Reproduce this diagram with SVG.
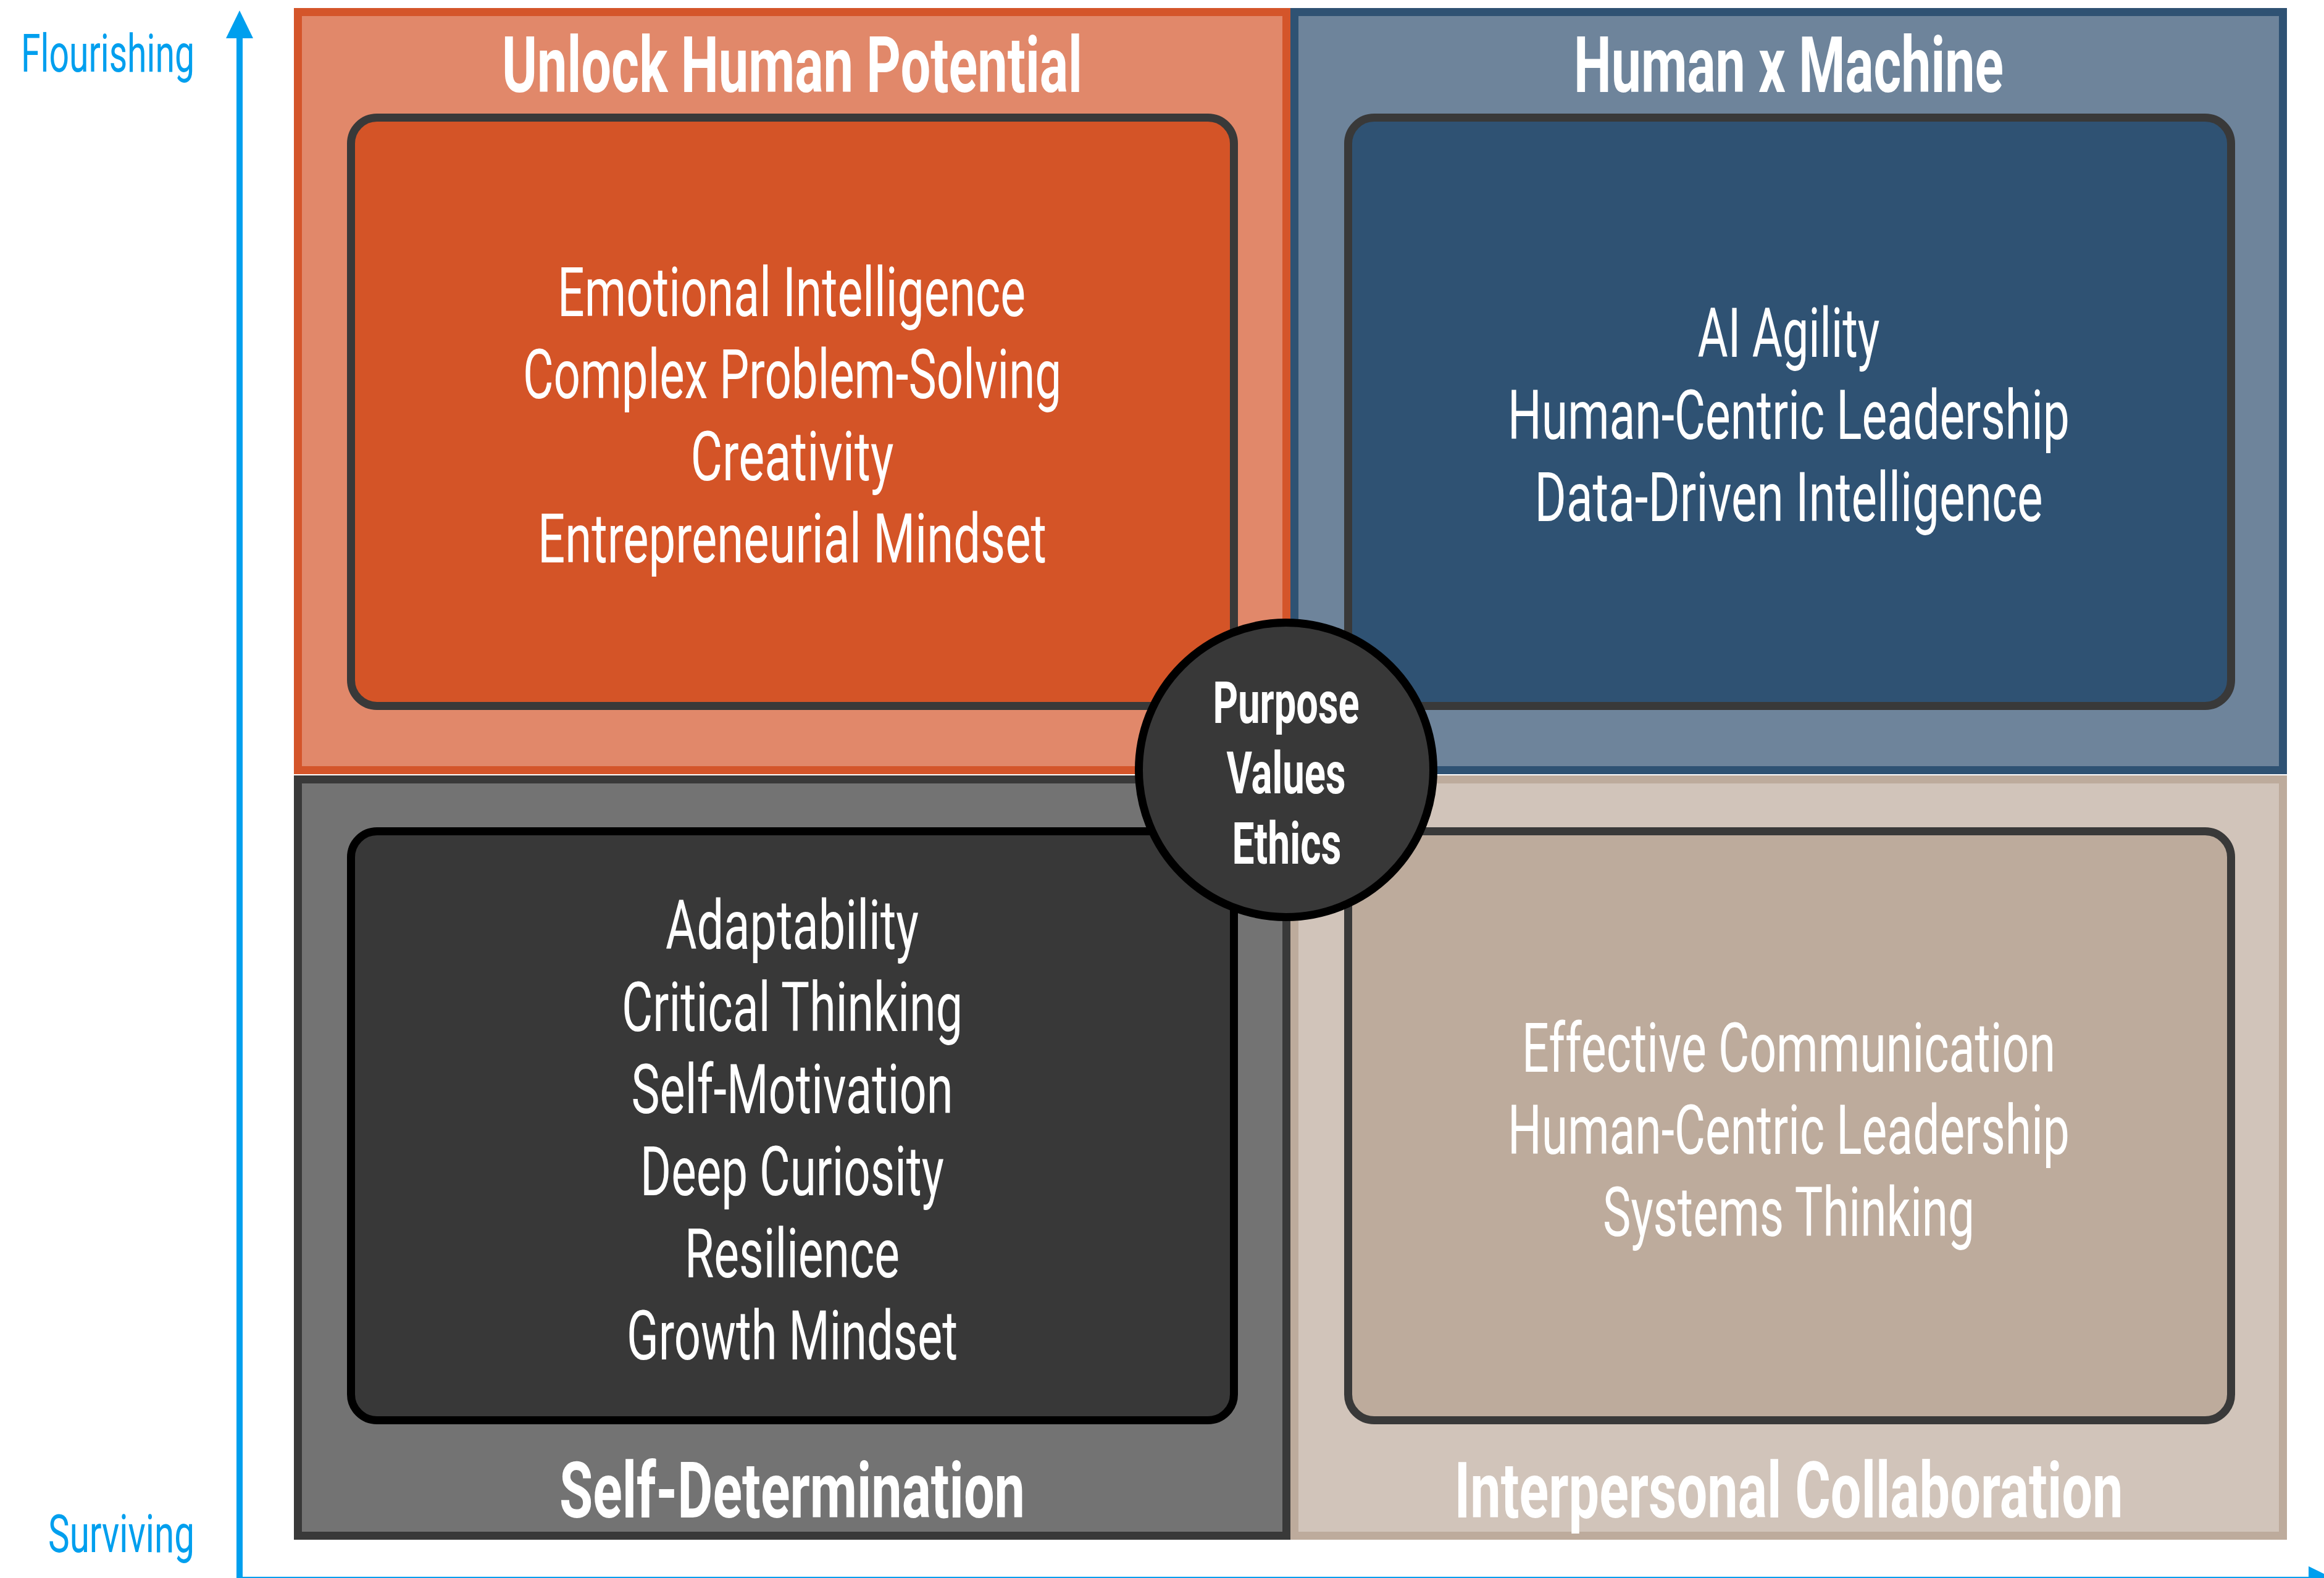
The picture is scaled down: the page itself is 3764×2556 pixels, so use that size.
<svg xmlns="http://www.w3.org/2000/svg" width="3764" height="2556" viewBox="0 0 3764 2556">
<style>
.q{stroke-width:13}
.box{stroke-width:13}
.t{font-family:Roboto,"Liberation Sans",sans-serif;fill:#fff;text-anchor:middle}
.title{font-size:126px;font-weight:700}
.item{font-size:112px;font-weight:400}
.core{font-size:95px;font-weight:700}
.axl{font-family:Roboto,"Liberation Sans",sans-serif;fill:#009FEE;font-size:86px;text-anchor:end}
</style>
<defs>
<marker id="arr" markerUnits="userSpaceOnUse" markerWidth="45" markerHeight="44" refX="0" refY="22" orient="auto" viewBox="0 0 45 44">
<path d="M0,0 L45,22 L0,44 z" fill="#009FEE"/>
</marker>
</defs>
<rect width="3764" height="2556" fill="#fff"/>

<g id="axes">
<line x1="388" y1="2559" x2="388" y2="62" stroke="#009FEE" stroke-width="10" marker-end="url(#arr)"/>
<line x1="383" y1="2559" x2="3739" y2="2559" stroke="#009FEE" stroke-width="10" marker-end="url(#arr)"/>
<text class="axl" x="315" y="116" textLength="281" lengthAdjust="spacingAndGlyphs">Flourishing</text>
<text class="axl" x="315" y="2514" textLength="237" lengthAdjust="spacingAndGlyphs">Surviving</text>
</g>

<g id="q-unlock">
<rect class="q" x="482.5" y="19.5" width="1601" height="1228" fill="#E1886A" stroke="#D4552A"/>
<rect class="box" x="568.5" y="190.5" width="1430" height="953" rx="42" fill="#D45427" stroke="#393939"/>
<text class="t title" x="1283" y="149" textLength="940" lengthAdjust="spacingAndGlyphs">Unlock Human Potential</text>
<text class="t item" x="1282" y="512" textLength="758" lengthAdjust="spacingAndGlyphs">Emotional Intelligence</text>
<text class="t item" x="1283" y="645" textLength="872" lengthAdjust="spacingAndGlyphs">Complex Problem-Solving</text>
<text class="t item" x="1283" y="778" textLength="329" lengthAdjust="spacingAndGlyphs">Creativity</text>
<text class="t item" x="1283" y="911" textLength="824" lengthAdjust="spacingAndGlyphs">Entrepreneurial Mindset</text>
</g>

<g id="q-human-machine">
<rect class="q" x="2096.5" y="19.5" width="1601" height="1228" fill="#6E849B" stroke="#2F5273"/>
<rect class="box" x="2183.5" y="190.5" width="1430" height="953" rx="42" fill="#2F5273" stroke="#393939"/>
<text class="t title" x="2897" y="149" textLength="696" lengthAdjust="spacingAndGlyphs">Human x Machine</text>
<text class="t item" x="2897" y="578" textLength="295" lengthAdjust="spacingAndGlyphs">AI Agility</text>
<text class="t item" x="2897" y="711" textLength="910" lengthAdjust="spacingAndGlyphs">Human-Centric Leadership</text>
<text class="t item" x="2897" y="844" textLength="823" lengthAdjust="spacingAndGlyphs">Data-Driven Intelligence</text>
</g>

<g id="q-self-determination">
<rect class="q" x="482.5" y="1262.5" width="1601" height="1225" fill="#737373" stroke="#393939"/>
<rect class="box" x="568.5" y="1346.5" width="1430" height="954" rx="42" fill="#383838" stroke="#000"/>
<text class="t title" x="1283" y="2458" textLength="754" lengthAdjust="spacingAndGlyphs">Self-Determination</text>
<text class="t item" x="1283" y="1537" textLength="410" lengthAdjust="spacingAndGlyphs">Adaptability</text>
<text class="t item" x="1283" y="1670" textLength="552" lengthAdjust="spacingAndGlyphs">Critical Thinking</text>
<text class="t item" x="1283" y="1803" textLength="521" lengthAdjust="spacingAndGlyphs">Self-Motivation</text>
<text class="t item" x="1283" y="1936" textLength="492" lengthAdjust="spacingAndGlyphs">Deep Curiosity</text>
<text class="t item" x="1283" y="2069" textLength="348" lengthAdjust="spacingAndGlyphs">Resilience</text>
<text class="t item" x="1283" y="2202" textLength="536" lengthAdjust="spacingAndGlyphs">Growth Mindset</text>
</g>

<g id="q-interpersonal">
<rect class="q" x="2096.5" y="1262.5" width="1601" height="1225" fill="#D1C4BA" stroke="#BDAB9C"/>
<rect class="box" x="2183.5" y="1346.5" width="1430" height="954" rx="42" fill="#BDAB9C" stroke="#393939"/>
<text class="t title" x="2897" y="2458" textLength="1083" lengthAdjust="spacingAndGlyphs">Interpersonal Collaboration</text>
<text class="t item" x="2897" y="1736" textLength="864" lengthAdjust="spacingAndGlyphs">Effective Communication</text>
<text class="t item" x="2897" y="1869" textLength="910" lengthAdjust="spacingAndGlyphs">Human-Centric Leadership</text>
<text class="t item" x="2897" y="2002" textLength="602" lengthAdjust="spacingAndGlyphs">Systems Thinking</text>
</g>

<g id="core">
<circle cx="2083" cy="1247" r="238.5" fill="#383838" stroke="#000" stroke-width="13"/>
<text class="t core" x="2083" y="1171" textLength="237" lengthAdjust="spacingAndGlyphs">Purpose</text>
<text class="t core" x="2083" y="1285" textLength="193" lengthAdjust="spacingAndGlyphs">Values</text>
<text class="t core" x="2084" y="1399" textLength="177" lengthAdjust="spacingAndGlyphs">Ethics</text>
</g>
</svg>
